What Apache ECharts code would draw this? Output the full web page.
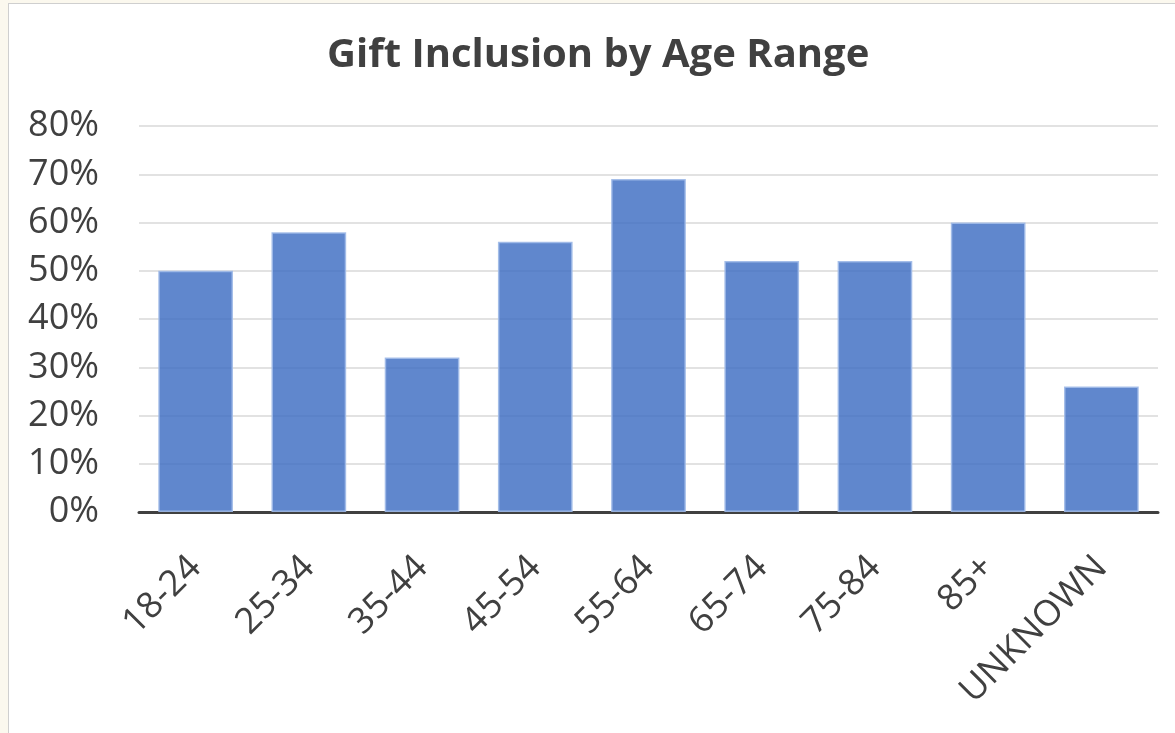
<!DOCTYPE html>
<html>
<head>
<meta charset="utf-8">
<script src="https://cdn.jsdelivr.net/npm/echarts@6/dist/echarts.min.js"></script>
<style>
  html, body { margin: 0; padding: 0; background: #fbf8ee; }
  #frame { position: absolute; left: 8px; top: 3px; width: 1175px; height: 740px; background: #fff; border-top: 1px solid #cfcfcf; border-left: 1px solid #cfcfcf; }
  #chart { position: absolute; left: -9px; top: -4px; width: 1175px; height: 733px; }
</style>
</head>
<body>
<div id="frame"><div id="chart"></div></div>
<script>
// Share of gifts by donor age range (percent)
const ageRanges = ['18-24', '25-34', '35-44', '45-54', '55-64', '65-74', '75-84', '85+', 'UNKNOWN'];
const inclusionPct = [50, 58, 32, 56, 69, 52, 52, 60, 26];
const yTicks = [0, 10, 20, 30, 40, 50, 60, 70, 80];

const chart = echarts.init(document.getElementById('chart'), null, { renderer: 'canvas' });
const font = '"Open Sans", "Liberation Sans", sans-serif';

chart.setOption({
  backgroundColor: 'transparent',
  animation: false,
  title: {
    text: 'Gift Inclusion by Age Range',
    left: 322,
    top: 31,
    textStyle: { fontFamily: font, fontWeight: 'bold', fontSize: 40, color: '#404040' }
  },
  grid: { left: 139, right: 17, top: 126, bottom: 221, containLabel: false },
  xAxis: {
    type: 'category',
    data: ageRanges,
    axisLine: { lineStyle: { color: '#404040', width: 3 } },
    axisTick: { show: false },
    axisLabel: { rotate: 45, margin: 50, fontFamily: font, fontSize: 36, color: '#404040', interval: 0 }
  },
  yAxis: {
    type: 'value',
    min: yTicks[0],
    max: yTicks[yTicks.length - 1],
    interval: 10,
    axisLine: { show: false },
    axisTick: { show: false },
    splitLine: { lineStyle: { color: '#d9d9d9', width: 1.5 } },
    axisLabel: { formatter: v => v + '%', margin: 40, fontFamily: font, fontSize: 36, color: '#404040' }
  },
  series: [{
    type: 'bar',
    data: inclusionPct,
    barCategoryGap: '34%',
    z: 1,
    itemStyle: { color: 'rgba(68, 114, 196, 0.85)', borderColor: 'rgba(160, 186, 232, 0.9)', borderWidth: 1.5 }
  }]
});
</script>
</body>
</html>
